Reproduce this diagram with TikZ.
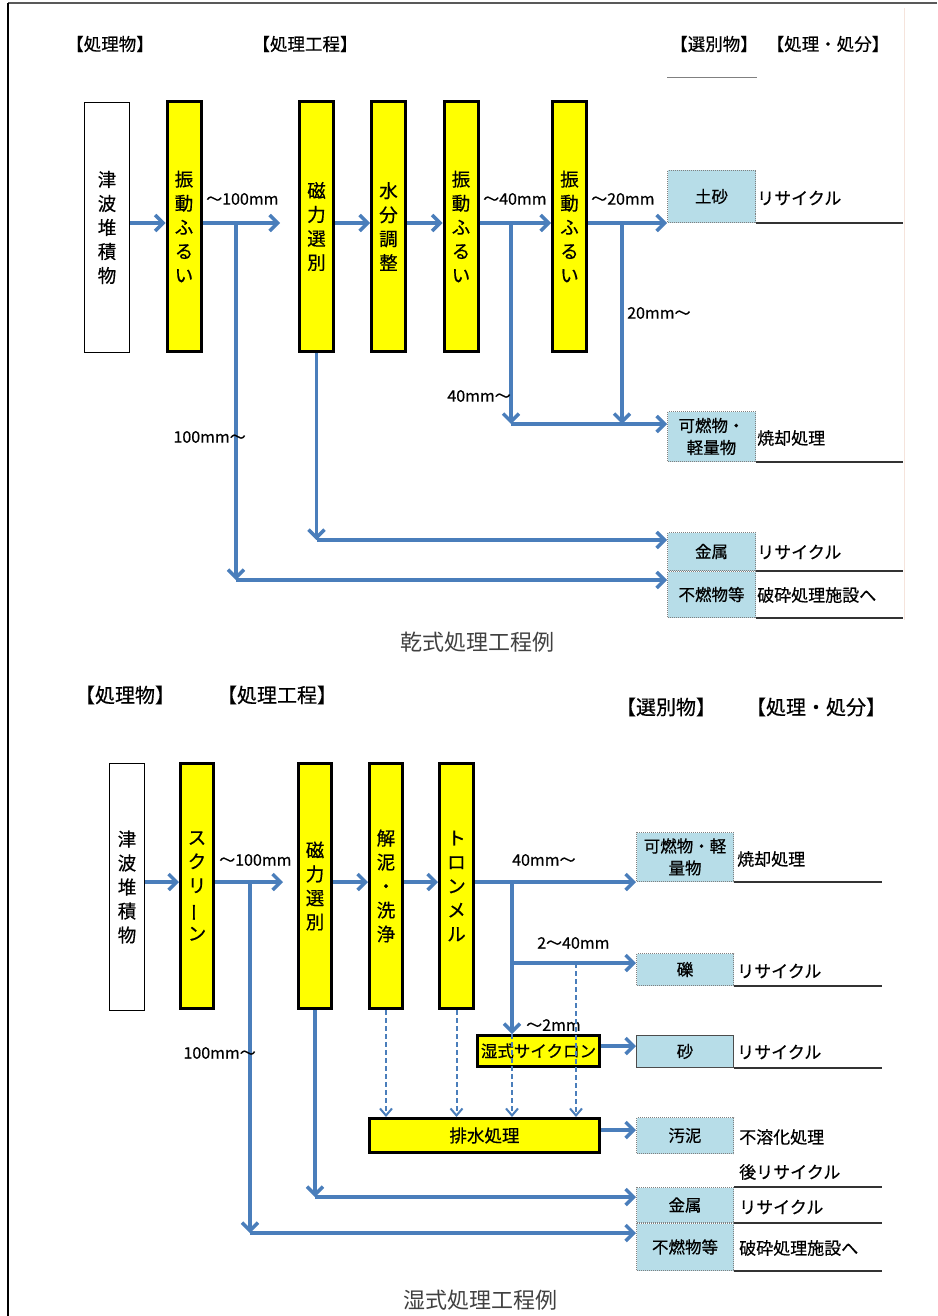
\documentclass[tikz,border=0pt]{standalone}
\usepackage{fontspec}
\setmainfont{Noto Sans CJK JP}[FakeBold=0.5]
\newfontfamily\capfont{Noto Sans CJK JP}
\usepackage{graphicx}
\usetikzlibrary{arrows.meta,calc}
\definecolor{flowblue}{HTML}{4A7EBB}
\definecolor{boxblue}{HTML}{B7DDE8}
\definecolor{yel}{HTML}{FFFF00}
\definecolor{faint}{RGB}{245,228,220}
\begin{document}
\begin{tikzpicture}[x=1pt,y=-1pt,
  every node/.style={inner sep=1pt},
  ybox/.style={draw=black, line width=3pt, fill=yel, minimum width=34pt, align=center, font=\fontsize{18.5}{24}\selectfont},
  wbox/.style={draw=black, line width=1.2pt, fill=white, minimum width=45pt, align=center, font=\fontsize{18.5}{24}\selectfont},
  bbox/.style={draw=gray, dash pattern=on 1pt off 1pt, line width=1pt, fill=boxblue, minimum width=88pt, align=center, font=\fontsize{16.5}{22}\selectfont},
  arr/.style={draw=flowblue, line width=3.5pt, -{Straight Barb[length=8pt,width=16pt]}},
  darr/.style={draw=flowblue, line width=2pt, dash pattern=on 5pt off 3pt, -{Straight Barb[length=7pt,width=12pt]}},
  lbl/.style={font=\fontsize{16}{18}\selectfont},
  rt/.style={font=\fontsize{17}{20}\selectfont, anchor=west},
  hdrA/.style={font=\fontsize{17.5}{20}\selectfont},
  hdrB/.style={font=\fontsize{20}{22}\selectfont},
  captxt/.style={font=\capfont\fontsize{22}{24}\selectfont, text=black!75},
  rline/.style={draw=black!80, line width=1.5pt},
]
\useasboundingbox (0,0) rectangle (937,1316);
% frame
\draw[black!65, line width=2pt] (937,3) -- (8,3);
\draw[black, line width=1.2pt] (8,3) -- (8,1316);
\draw[faint, line width=0.8pt] (904,8) -- (904,620);

% ===================== TOP: dry process =====================
\node[hdrA] (hA1) at (110,44) {【処理物】};
\node[hdrA] (hA2) at (305,44) {【処理工程】};
\node[hdrA] (hA3) at (714,44) {【選別物】};
\node[hdrA] (hA4) at (828,44) {【処理・処分】};
\draw[gray, line width=0.8pt] (667,77) -- (757,77);

\coordinate (yA) at (0,223);
\node[wbox, minimum height=250pt] (t1) at (107,227.5) {津\\波\\堆\\積\\物};
\node[ybox, minimum height=250pt] (s1) at (184,226.5) {振\\動\\ふ\\る\\い};
\node[ybox, minimum height=250pt] (m1) at (316.5,226.5) {磁\\力\\選\\別};
\node[ybox, minimum height=250pt] (w1) at (388.5,226.5) {水\\分\\調\\整};
\node[ybox, minimum height=250pt] (s2) at (461,226.5) {振\\動\\ふ\\る\\い};
\node[ybox, minimum height=250pt] (s3) at (569.5,226.5) {振\\動\\ふ\\る\\い};

\node[bbox, minimum height=52pt] (dosha) at (711.5,196.5) {土砂};
\node[bbox, minimum height=50pt] (kanen) at (711.5,436.5) {可燃物・\\軽量物};
\node[bbox, minimum height=38pt] (kinzoku) at (711.5,551.5) {金属};
\node[bbox, minimum height=46pt] (funen) at (711.5,594.5) {不燃物等};

\node[rt] (r1) at (756,198) {リサイクル};
\node[rt] (r2t) at (756,438) {焼却処理};
\node[rt] (r3) at (756,552) {リサイクル};
\node[rt] (r4) at (756,595) {破砕処理施設へ};
\draw[rline] (dosha.south east) -- (903,223);
\draw[rline] (kanen.south east) -- (903,462);
\draw[rline] (kinzoku.south east) -- (903,571);
\draw[rline] (funen.south east) -- (903,618);

\coordinate (e1) at (280,223);
\draw[arr] (t1.east|-yA) -- (s1.west|-yA);
\draw[arr] (s1.east|-yA) -- (e1);
\draw[arr] (m1.east|-yA) -- (w1.west|-yA);
\draw[arr] (w1.east|-yA) -- (s2.west|-yA);
\draw[arr] (s2.east|-yA) -- (s3.west|-yA);
\draw[arr] (s3.east|-yA) -- (dosha.south west);
\node[lbl, anchor=west] (l1) at (205,199) {〜100mm};
\node[lbl, anchor=west] (l2) at (482,199) {〜40mm};
\node[lbl, anchor=west] (l3) at (590,199) {〜20mm};

\coordinate (b1) at (236,223); \coordinate (b1d) at (236,580);
\draw[arr] (b1) -- (b1d);
\draw[arr] (b1d) -- (funen.west|-b1d);
\coordinate (b2) at (511,223); \coordinate (b2d) at (511,424);
\draw[arr] (b2) -- (b2d);
\draw[arr] (b2d) -- (kanen.west|-b2d);
\coordinate (b3) at (622,223); \coordinate (b3d) at (622,424);
\draw[arr] (b3) -- (b3d);
\coordinate (m1d) at (316.5,540);
\draw[arr] (m1.south) -- (m1d);
\draw[arr] (m1d) -- (kinzoku.west|-m1d);

\node[lbl, anchor=west] (l4) at (626,313) {20mm〜};
\node[lbl, anchor=east] (l5) at (512,396) {40mm〜};
\node[lbl, anchor=east] (l6) at (247,437) {100mm〜};

\node[captxt] (capA) at (477,642) {乾式処理工程例};

% ===================== BOTTOM: wet process =====================
\node[hdrB] (hB1) at (125,695) {【処理物】};
\node[hdrB] (hB2) at (277,695) {【処理工程】};
\node[hdrB] (hB3) at (666,707) {【選別物】};
\node[hdrB] (hB4) at (816,707) {【処理・処分】};

\coordinate (yB) at (0,882);
\node[wbox, minimum width=35pt, minimum height=247pt] (t2) at (127,887) {津\\波\\堆\\積\\物};
\node[ybox, minimum width=33pt, minimum height=245pt] (s4) at (197,886) {ス\\ク\\リ\\\rotatebox[origin=c]{90}{ー}\\ン};
\node[ybox, minimum width=33pt, minimum height=245pt] (m2) at (315,886) {磁\\力\\選\\別};
\node[ybox, minimum width=33pt, minimum height=245pt] (k2) at (386,886) {解\\泥\\・\\洗\\浄};
\node[ybox, minimum width=34pt, minimum height=245pt] (tr) at (456.5,886) {ト\\ロ\\ン\\メ\\ル};

\node[ybox, minimum width=122pt, minimum height=31pt, font=\fontsize{16.5}{18}\selectfont] (cyc) at (538.5,1051) {湿式サイクロン};
\node[ybox, minimum width=230pt, minimum height=34pt, font=\fontsize{17.5}{20}\selectfont] (hai) at (484.5,1135.5) {排水処理};

\node[bbox, minimum width=97pt, minimum height=49pt] (kan2) at (685,857) {可燃物・軽\\量物};
\node[bbox, minimum width=97pt, minimum height=32pt] (reki) at (685,969.5) {礫};
\node[bbox, minimum width=97pt, minimum height=32pt, draw=black!70, solid] (suna) at (685,1051.5) {砂};
\node[bbox, minimum width=97pt, minimum height=36pt] (odei) at (685,1135.5) {汚泥};
\node[bbox, minimum width=97pt, minimum height=35pt] (kin2) at (685,1205) {金属};
\node[bbox, minimum width=97pt, minimum height=47pt] (fun2) at (685,1247) {不燃物等};

\node[rt] (q1) at (736,859) {焼却処理};
\node[rt] (q2) at (736,971) {リサイクル};
\node[rt] (q3) at (736,1052) {リサイクル};
\node[rt] (q4) at (738,1137) {不溶化処理};
\node[rt] (q5) at (738,1172) {後リサイクル};
\node[rt] (q6) at (738,1207) {リサイクル};
\node[rt] (q7) at (738,1248) {破砕処理施設へ};
\draw[rline] (kan2.south east) -- (882,882);
\draw[rline] (reki.south east) -- (882,986);
\draw[rline] (suna.south east) -- (882,1068);
\draw[rline] (kin2.north east) -- (882,1187);
\draw[rline] (kin2.south east) -- (882,1223);
\draw[rline] (fun2.south east) -- (882,1271);

\coordinate (e2) at (283,882);
\draw[arr] (t2.east|-yB) -- (s4.west|-yB);
\draw[arr] (s4.east|-yB) -- (e2);
\draw[arr] (m2.east|-yB) -- (k2.west|-yB);
\draw[arr] (k2.east|-yB) -- (tr.west|-yB);
\draw[arr] (tr.east|-yB) -- (kan2.south west);
\node[lbl, anchor=west] (n1) at (218,860) {〜100mm};
\node[lbl, anchor=west] (n2) at (511,860) {40mm〜};

\coordinate (c1) at (250,882); \coordinate (c1d) at (250,1233);
\draw[arr] (c1) -- (c1d);
\draw[arr] (c1d) -- (fun2.west|-c1d);
\node[lbl, anchor=east] (n3) at (257,1053) {100mm〜};

\coordinate (m2d) at (315,1197);
\draw[arr] (m2.south) -- (m2d);
\draw[arr] (m2d) -- (kin2.west|-m2d);

\coordinate (c2) at (512,882); \coordinate (c2r) at (512,963);
\draw[arr] (c2) -- (cyc.north -| c2);
\draw[arr] (c2r) -- (reki.west|-c2r);
\node[lbl, anchor=west] (n4) at (536,943) {2〜40mm};
\node[lbl, anchor=west] (n5) at (525,1025) {〜2mm};

\coordinate (yC) at (0,1046); \coordinate (yD) at (0,1130);
\draw[arr] (cyc.east|-yC) -- (suna.west|-yC);
\draw[arr] (hai.east|-yD) -- (odei.west|-yD);

\coordinate (c3) at (576,963);
\draw[darr] (k2.south) -- (hai.north -| k2.south);
\draw[darr] (tr.south) -- (hai.north -| tr.south);
\draw[darr] (cyc.north -| c2) -- (hai.north -| c2);
\draw[darr] (c3) -- (hai.north -| c3);

\node[captxt] (capB) at (480,1300) {湿式処理工程例};
\end{tikzpicture}
\end{document}
